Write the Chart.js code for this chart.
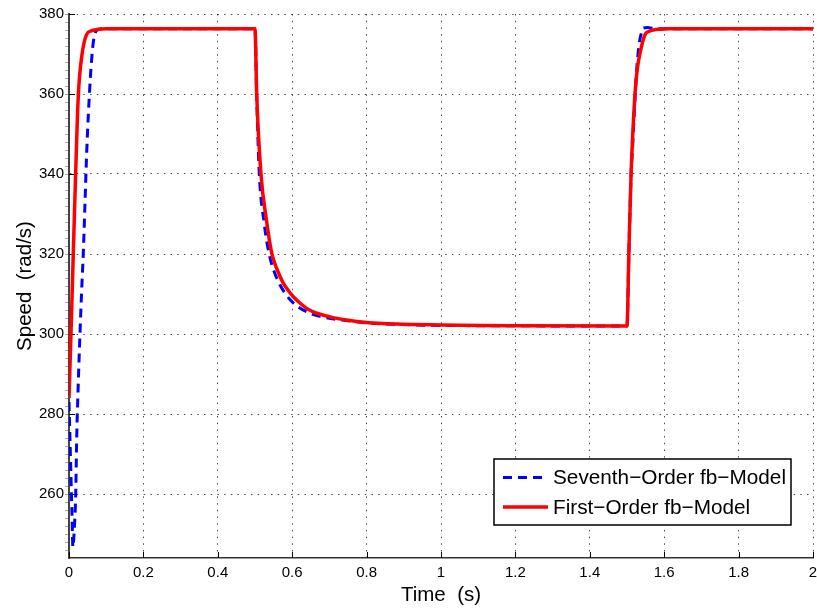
<!DOCTYPE html>
<html>
<head>
<meta charset="utf-8">
<script src="https://cdn.jsdelivr.net/npm/chart.js"></script>
<style>
  html, body { margin: 0; padding: 0; background: #fff; }
</style>
</head>
<body>
<canvas id="speedChart" width="817" height="610"></canvas>
<script>
// values: time (s) and speed (rad/s)
const seventhTime = [0, 0.004, 0.008, 0.0105, 0.0125, 0.015, 0.0179, 0.0206, 0.025, 0.0296, 0.034, 0.0385, 0.043, 0.0475, 0.052, 0.059, 0.0654, 0.0744, 0.088, 0.1,
  0.5, 0.5046, 0.5116, 0.525, 0.538, 0.552, 0.567, 0.58, 0.594, 0.61, 0.64, 0.68, 0.75, 0.8, 0.9, 1.0, 1.2,
  1.5, 1.505, 1.511, 1.5146, 1.5196, 1.526, 1.533, 1.5395, 1.544, 1.555, 1.58, 2.0];
const seventhSpeed = [283, 269, 255, 246.7, 248.5, 252.5, 259.2, 273.5, 287.9, 300.3, 310.8, 320.4, 332.8, 345.2, 354.8, 366.3, 373, 375.9, 376.3, 376.3,
  376.3, 359, 340, 327.5, 320, 315.5, 312.3, 310.3, 308.6, 307.2, 305.5, 304.3, 303.3, 302.8, 302.35, 302.15, 302.05,
  302, 320, 340, 346, 355.2, 366, 372.7, 375.5, 376.5, 376.6, 376.3, 376.3];

const firstTime = [0, 0.0054, 0.0116, 0.018, 0.025, 0.034, 0.0475, 0.06, 0.075, 0.1,
  0.5, 0.5046, 0.516, 0.53, 0.545, 0.56, 0.576, 0.59, 0.603, 0.62, 0.639, 0.66, 0.684, 0.71, 0.746, 0.8, 0.88, 1.0, 1.105, 1.2,
  1.5, 1.505, 1.511, 1.5215, 1.528, 1.535, 1.548, 1.56, 1.571, 1.59, 1.607, 2.0];
const firstSpeed = [284, 300.3, 320.4, 340.5, 359.6, 369.2, 374.9, 375.8, 376.1, 376.3,
  376.3, 360, 340, 329, 320.2, 316, 312.7, 310.8, 309.3, 307.8, 306.4, 305.4, 304.7, 304.1, 303.5, 302.9, 302.5, 302.25, 302.1, 302.05,
  302, 320, 340, 360, 366.5, 370.2, 374.75, 375.7, 376.0, 376.2, 376.3, 376.3];

const xTicks = [0, 0.2, 0.4, 0.6, 0.8, 1, 1.2, 1.4, 1.6, 1.8, 2];
const yTicks = [260, 280, 300, 320, 340, 360, 380];
const seriesNames = ['Seventh\u2212Order fb\u2212Model', 'First\u2212Order fb\u2212Model'];

const FONT = '"Liberation Sans", Arial, Helvetica, sans-serif';

// MATLAB style ticks pointing into the plot, plus the faint comb on the y axis
const inwardTicks = {
  id: 'inwardTicks',
  beforeDatasetsDraw(chart) {
    const { ctx, chartArea: a, scales: { x, y } } = chart;
    ctx.save();
    ctx.strokeStyle = '#000';
    ctx.lineWidth = 1;
    ctx.beginPath();
    x.ticks.forEach(t => {
      const px = Math.round(x.getPixelForValue(t.value)) + 0.5;
      ctx.moveTo(px, a.bottom);
      ctx.lineTo(px, a.bottom - 6);
    });
    y.ticks.forEach(t => {
      const py = Math.round(y.getPixelForValue(t.value)) + 0.5;
      ctx.moveTo(a.left, py);
      ctx.lineTo(a.left + 6, py);
    });
    ctx.stroke();
    ctx.strokeStyle = '#aaa';
    ctx.beginPath();
    for (let v = 246; v <= 380; v += 2) {
      const py = Math.round(y.getPixelForValue(v)) + 0.5;
      ctx.moveTo(a.left - 4, py);
      ctx.lineTo(a.left - 1, py);
    }
    ctx.stroke();
    ctx.restore();
  }
};

// boxed legend inside the plot, lower right
const boxLegend = {
  id: 'boxLegend',
  afterDraw(chart) {
    const { ctx, chartArea: a } = chart;
    const sets = chart.data.datasets;
    ctx.save();
    ctx.font = '20.75px ' + FONT;
    const textW = Math.max(...sets.map(d => ctx.measureText(d.label).width));
    const padL = 9, lineLen = 45, gap = 5, padR = 5, h = 66, rowH = 29.5;
    const w = padL + lineLen + gap + textW + padR;
    const right = a.right - 22, bottom = a.bottom - 33;
    const left = right - w, top = bottom - h;
    ctx.fillStyle = '#fff';
    ctx.fillRect(left, top, w, h);
    ctx.strokeStyle = '#000';
    ctx.lineWidth = 1.5;
    ctx.strokeRect(left, top, w, h);
    sets.forEach((d, i) => {
      const yy = top + 18.5 + i * rowH;
      ctx.beginPath();
      ctx.setLineDash(d.borderDash || []);
      ctx.strokeStyle = d.borderColor;
      ctx.lineWidth = d.borderWidth;
      ctx.moveTo(left + padL, yy);
      ctx.lineTo(left + padL + lineLen, yy);
      ctx.stroke();
      ctx.setLineDash([]);
      ctx.fillStyle = '#000';
      ctx.textBaseline = 'middle';
      ctx.textAlign = 'left';
      ctx.fillText(d.label, left + padL + lineLen + gap, yy + 1);
    });
    ctx.restore();
  }
};

const ctx = document.getElementById('speedChart').getContext('2d');

new Chart(ctx, {
  type: 'line',
  data: {
    datasets: [{
      label: seriesNames[0],
      data: seventhTime.map((t, i) => ({ x: t, y: seventhSpeed[i] })),
      borderColor: '#0000ff',
      borderWidth: 3,
      borderDash: [9, 6],
      pointRadius: 0,
      cubicInterpolationMode: 'monotone',
      fill: false,
      order: 2
    }, {
      label: seriesNames[1],
      data: firstTime.map((t, i) => ({ x: t, y: firstSpeed[i] })),
      borderColor: '#ff0000',
      borderWidth: 3.5,
      pointRadius: 0,
      cubicInterpolationMode: 'monotone',
      fill: false,
      order: 1
    }]
  },
  options: {
    responsive: false,
    animation: false,
    events: [],
    layout: { padding: { top: 14, right: 4, left: 0, bottom: 0 } },
    plugins: {
      legend: { display: false },
      tooltip: { enabled: false }
    },
    scales: {
      x: {
        type: 'linear',
        min: 0,
        max: 2,
        afterBuildTicks: s => { s.ticks = xTicks.map(v => ({ value: v })); },
        afterFit: s => { s.height = 52; s.paddingLeft = 0; s.paddingRight = 4; },
        ticks: {
          padding: 6,
          color: '#000',
          maxRotation: 0,
          autoSkip: false,
          font: { family: FONT, size: 15 },
          callback: v => String(+Number(v).toFixed(1))
        },
        grid: { color: 'rgba(0,0,0,0.7)', lineWidth: 1, drawTicks: false },
        border: { color: '#333', width: 1.5, dash: [1.5, 5.2] },
        title: {
          display: true,
          text: 'Time  (s)',
          color: '#000',
          font: { family: FONT, size: 20.5 },
          padding: { top: 0, bottom: 2 }
        }
      },
      y: {
        type: 'linear',
        min: 244,
        max: 380,
        afterBuildTicks: s => { s.ticks = yTicks.map(v => ({ value: v })); },
        afterFit: s => { s.width = 69; },
        ticks: {
          padding: 5,
          color: '#000',
          font: { family: FONT, size: 15 },
          callback: v => String(v)
        },
        grid: { color: 'rgba(0,0,0,0.7)', lineWidth: 1, drawTicks: false },
        border: { color: '#444', width: 2, dash: [1.5, 5.2] },
        title: {
          display: true,
          text: 'Speed  (rad/s)',
          color: '#000',
          font: { family: FONT, size: 20.5 },
          padding: { top: 13, bottom: 0 }
        }
      }
    }
  },
  plugins: [inwardTicks, boxLegend]
});
</script>
</body>
</html>
